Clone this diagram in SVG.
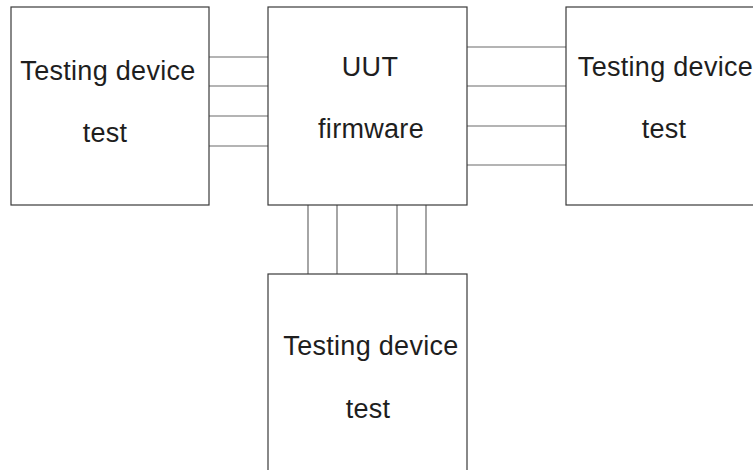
<svg xmlns="http://www.w3.org/2000/svg" width="753" height="470" viewBox="0 0 753 470">
  <style>
    .box { fill: #ffffff; stroke: #3a3a3a; stroke-width: 1.2; }
    .wire { stroke: #6a6a6a; stroke-width: 1.2; fill: none; }
    .label { font-family: "Liberation Sans", Arial, sans-serif; font-size: 27px; letter-spacing: 0.3px; fill: #1e1e1e; text-anchor: middle; }
  </style>
  <rect width="753" height="470" fill="#ffffff"/>

  <!-- connector bundles -->
  <g id="connectors">
    <!-- left tester to UUT -->
    <line class="wire" x1="209" y1="57" x2="268" y2="57"/>
    <line class="wire" x1="209" y1="86" x2="268" y2="86"/>
    <line class="wire" x1="209" y1="116" x2="268" y2="116"/>
    <line class="wire" x1="209" y1="146" x2="268" y2="146"/>
    <!-- UUT to right tester -->
    <line class="wire" x1="467" y1="47" x2="566" y2="47"/>
    <line class="wire" x1="467" y1="86" x2="566" y2="86"/>
    <line class="wire" x1="467" y1="126" x2="566" y2="126"/>
    <line class="wire" x1="467" y1="165" x2="566" y2="165"/>
    <!-- UUT to bottom tester -->
    <line class="wire" x1="308" y1="205" x2="308" y2="274"/>
    <line class="wire" x1="337" y1="205" x2="337" y2="274"/>
    <line class="wire" x1="397" y1="205" x2="397" y2="274"/>
    <line class="wire" x1="426" y1="205" x2="426" y2="274"/>
  </g>

  <g id="tester-left">
    <rect class="box" x="11" y="7" width="198" height="198"/>
    <text class="label" x="108" y="80">Testing device</text>
    <text class="label" x="105" y="142">test</text>
  </g>

  <g id="uut">
    <rect class="box" x="268" y="7" width="199" height="198"/>
    <text class="label" x="370" y="76">UUT</text>
    <text class="label" x="371" y="138">firmware</text>
  </g>

  <g id="tester-right">
    <rect class="box" x="566" y="7" width="200" height="198"/>
    <text class="label" x="665.5" y="76">Testing device</text>
    <text class="label" x="664" y="138">test</text>
  </g>

  <g id="tester-bottom">
    <rect class="box" x="268" y="274" width="199" height="210"/>
    <text class="label" x="371" y="355">Testing device</text>
    <text class="label" x="368" y="418">test</text>
  </g>
</svg>
